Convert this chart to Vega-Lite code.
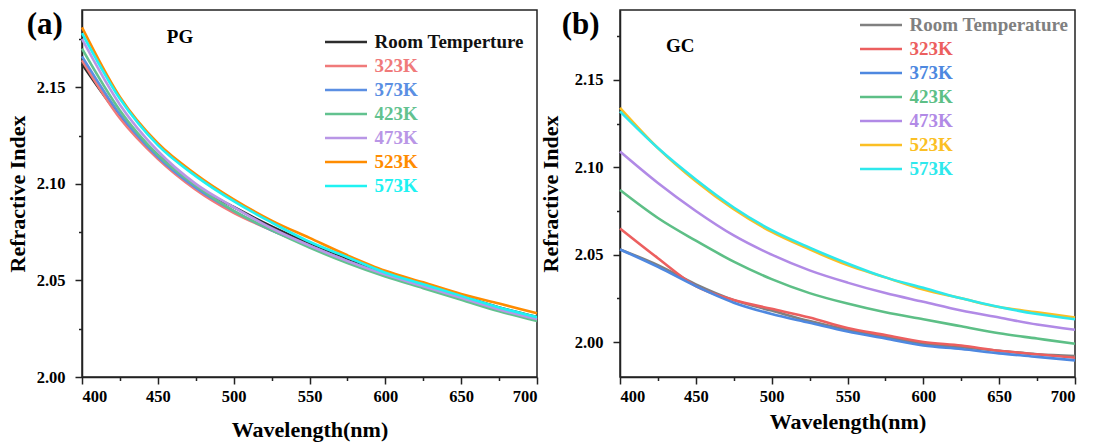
{
  "$schema": "https://vega.github.io/schema/vega-lite/v6.json",
  "padding": {"left": 5, "top": 7, "right": 5, "bottom": 5},
  "bounds": "flush",
  "spacing": 83,
  "datasets": {
    "pg": [
      {"series":"Room Temperture","wavelength":400,"n":2.162},{"series":"Room Temperture","wavelength":425,"n":2.135},{"series":"Room Temperture","wavelength":450,"n":2.115},{"series":"Room Temperture","wavelength":475,"n":2.099},{"series":"Room Temperture","wavelength":500,"n":2.088},{"series":"Room Temperture","wavelength":525,"n":2.078},{"series":"Room Temperture","wavelength":550,"n":2.069},{"series":"Room Temperture","wavelength":575,"n":2.061},{"series":"Room Temperture","wavelength":600,"n":2.054},{"series":"Room Temperture","wavelength":625,"n":2.048},{"series":"Room Temperture","wavelength":650,"n":2.042},{"series":"Room Temperture","wavelength":675,"n":2.036},{"series":"Room Temperture","wavelength":700,"n":2.031},
      {"series":"323K","wavelength":400,"n":2.164},{"series":"323K","wavelength":425,"n":2.134},{"series":"323K","wavelength":450,"n":2.113},{"series":"323K","wavelength":475,"n":2.097},{"series":"323K","wavelength":500,"n":2.085},{"series":"323K","wavelength":525,"n":2.076},{"series":"323K","wavelength":550,"n":2.068},{"series":"323K","wavelength":575,"n":2.060},{"series":"323K","wavelength":600,"n":2.053},{"series":"323K","wavelength":625,"n":2.047},{"series":"323K","wavelength":650,"n":2.041},{"series":"323K","wavelength":675,"n":2.035},{"series":"323K","wavelength":700,"n":2.030},
      {"series":"373K","wavelength":400,"n":2.166},{"series":"373K","wavelength":425,"n":2.136},{"series":"373K","wavelength":450,"n":2.114},{"series":"373K","wavelength":475,"n":2.098},{"series":"373K","wavelength":500,"n":2.086},{"series":"373K","wavelength":525,"n":2.076},{"series":"373K","wavelength":550,"n":2.068},{"series":"373K","wavelength":575,"n":2.060},{"series":"373K","wavelength":600,"n":2.053},{"series":"373K","wavelength":625,"n":2.047},{"series":"373K","wavelength":650,"n":2.041},{"series":"373K","wavelength":675,"n":2.035},{"series":"373K","wavelength":700,"n":2.030},
      {"series":"423K","wavelength":400,"n":2.170},{"series":"423K","wavelength":425,"n":2.138},{"series":"423K","wavelength":450,"n":2.115},{"series":"423K","wavelength":475,"n":2.099},{"series":"423K","wavelength":500,"n":2.086},{"series":"423K","wavelength":525,"n":2.076},{"series":"423K","wavelength":550,"n":2.067},{"series":"423K","wavelength":575,"n":2.059},{"series":"423K","wavelength":600,"n":2.052},{"series":"423K","wavelength":625,"n":2.046},{"series":"423K","wavelength":650,"n":2.040},{"series":"423K","wavelength":675,"n":2.034},{"series":"423K","wavelength":700,"n":2.029},
      {"series":"473K","wavelength":400,"n":2.175},{"series":"473K","wavelength":425,"n":2.141},{"series":"473K","wavelength":450,"n":2.117},{"series":"473K","wavelength":475,"n":2.100},{"series":"473K","wavelength":500,"n":2.088},{"series":"473K","wavelength":525,"n":2.077},{"series":"473K","wavelength":550,"n":2.068},{"series":"473K","wavelength":575,"n":2.060},{"series":"473K","wavelength":600,"n":2.053},{"series":"473K","wavelength":625,"n":2.047},{"series":"473K","wavelength":650,"n":2.041},{"series":"473K","wavelength":675,"n":2.035},{"series":"473K","wavelength":700,"n":2.030},
      {"series":"523K","wavelength":400,"n":2.181},{"series":"523K","wavelength":425,"n":2.145},{"series":"523K","wavelength":450,"n":2.121},{"series":"523K","wavelength":475,"n":2.105},{"series":"523K","wavelength":500,"n":2.092},{"series":"523K","wavelength":525,"n":2.081},{"series":"523K","wavelength":550,"n":2.072},{"series":"523K","wavelength":575,"n":2.063},{"series":"523K","wavelength":600,"n":2.055},{"series":"523K","wavelength":625,"n":2.049},{"series":"523K","wavelength":650,"n":2.043},{"series":"523K","wavelength":675,"n":2.038},{"series":"523K","wavelength":700,"n":2.033},
      {"series":"573K","wavelength":400,"n":2.178},{"series":"573K","wavelength":425,"n":2.144},{"series":"573K","wavelength":450,"n":2.120},{"series":"573K","wavelength":475,"n":2.104},{"series":"573K","wavelength":500,"n":2.091},{"series":"573K","wavelength":525,"n":2.080},{"series":"573K","wavelength":550,"n":2.070},{"series":"573K","wavelength":575,"n":2.062},{"series":"573K","wavelength":600,"n":2.054},{"series":"573K","wavelength":625,"n":2.048},{"series":"573K","wavelength":650,"n":2.042},{"series":"573K","wavelength":675,"n":2.036},{"series":"573K","wavelength":700,"n":2.031}
    ],
    "gc": [
      {"series":"Room Temperature","wavelength":400,"n":2.053},{"series":"Room Temperature","wavelength":425,"n":2.044},{"series":"Room Temperature","wavelength":450,"n":2.033},{"series":"Room Temperature","wavelength":475,"n":2.024},{"series":"Room Temperature","wavelength":500,"n":2.018},{"series":"Room Temperature","wavelength":525,"n":2.012},{"series":"Room Temperature","wavelength":550,"n":2.007},{"series":"Room Temperature","wavelength":575,"n":2.003},{"series":"Room Temperature","wavelength":600,"n":1.999},{"series":"Room Temperature","wavelength":625,"n":1.997},{"series":"Room Temperature","wavelength":650,"n":1.995},{"series":"Room Temperature","wavelength":675,"n":1.993},{"series":"Room Temperature","wavelength":700,"n":1.992},
      {"series":"323K","wavelength":400,"n":2.065},{"series":"323K","wavelength":425,"n":2.048},{"series":"323K","wavelength":450,"n":2.032},{"series":"323K","wavelength":475,"n":2.024},{"series":"323K","wavelength":500,"n":2.019},{"series":"323K","wavelength":525,"n":2.014},{"series":"323K","wavelength":550,"n":2.008},{"series":"323K","wavelength":575,"n":2.004},{"series":"323K","wavelength":600,"n":2.000},{"series":"323K","wavelength":625,"n":1.998},{"series":"323K","wavelength":650,"n":1.995},{"series":"323K","wavelength":675,"n":1.993},{"series":"323K","wavelength":700,"n":1.991},
      {"series":"373K","wavelength":400,"n":2.053},{"series":"373K","wavelength":425,"n":2.043},{"series":"373K","wavelength":450,"n":2.032},{"series":"373K","wavelength":475,"n":2.0225},{"series":"373K","wavelength":500,"n":2.016},{"series":"373K","wavelength":525,"n":2.011},{"series":"373K","wavelength":550,"n":2.006},{"series":"373K","wavelength":575,"n":2.002},{"series":"373K","wavelength":600,"n":1.998},{"series":"373K","wavelength":625,"n":1.996},{"series":"373K","wavelength":650,"n":1.9935},{"series":"373K","wavelength":675,"n":1.9915},{"series":"373K","wavelength":700,"n":1.9895},
      {"series":"423K","wavelength":400,"n":2.087},{"series":"423K","wavelength":425,"n":2.071},{"series":"423K","wavelength":450,"n":2.058},{"series":"423K","wavelength":475,"n":2.046},{"series":"423K","wavelength":500,"n":2.036},{"series":"423K","wavelength":525,"n":2.028},{"series":"423K","wavelength":550,"n":2.022},{"series":"423K","wavelength":575,"n":2.017},{"series":"423K","wavelength":600,"n":2.013},{"series":"423K","wavelength":625,"n":2.009},{"series":"423K","wavelength":650,"n":2.005},{"series":"423K","wavelength":675,"n":2.002},{"series":"423K","wavelength":700,"n":1.999},
      {"series":"473K","wavelength":400,"n":2.109},{"series":"473K","wavelength":425,"n":2.091},{"series":"473K","wavelength":450,"n":2.075},{"series":"473K","wavelength":475,"n":2.061},{"series":"473K","wavelength":500,"n":2.050},{"series":"473K","wavelength":525,"n":2.041},{"series":"473K","wavelength":550,"n":2.034},{"series":"473K","wavelength":575,"n":2.028},{"series":"473K","wavelength":600,"n":2.023},{"series":"473K","wavelength":625,"n":2.018},{"series":"473K","wavelength":650,"n":2.014},{"series":"473K","wavelength":675,"n":2.010},{"series":"473K","wavelength":700,"n":2.007},
      {"series":"523K","wavelength":400,"n":2.134},{"series":"523K","wavelength":425,"n":2.111},{"series":"523K","wavelength":450,"n":2.092},{"series":"523K","wavelength":475,"n":2.076},{"series":"523K","wavelength":500,"n":2.063},{"series":"523K","wavelength":525,"n":2.053},{"series":"523K","wavelength":550,"n":2.044},{"series":"523K","wavelength":575,"n":2.037},{"series":"523K","wavelength":600,"n":2.030},{"series":"523K","wavelength":625,"n":2.025},{"series":"523K","wavelength":650,"n":2.020},{"series":"523K","wavelength":675,"n":2.017},{"series":"523K","wavelength":700,"n":2.014},
      {"series":"573K","wavelength":400,"n":2.132},{"series":"573K","wavelength":425,"n":2.111},{"series":"573K","wavelength":450,"n":2.093},{"series":"573K","wavelength":475,"n":2.077},{"series":"573K","wavelength":500,"n":2.064},{"series":"573K","wavelength":525,"n":2.054},{"series":"573K","wavelength":550,"n":2.045},{"series":"573K","wavelength":575,"n":2.037},{"series":"573K","wavelength":600,"n":2.031},{"series":"573K","wavelength":625,"n":2.025},{"series":"573K","wavelength":650,"n":2.020},{"series":"573K","wavelength":675,"n":2.016},{"series":"573K","wavelength":700,"n":2.013}
    ]
  },
  "hconcat": [
    {
      "width": 455,
      "height": 367,
      "layer": [
        {
          "data": {"name": "pg"},
          "mark": {"type": "line", "strokeWidth": 2.6, "interpolate": "monotone"},
          "encoding": {
            "x": {"field": "wavelength", "type": "quantitative", "scale": {"domain": [400, 700], "nice": false, "zero": false},
                  "axis": {"orient": "bottom", "values": [400, 450, 500, 550, 600, 650, 700], "format": "d", "title": "Wavelength(nm)", "titlePadding": 15,
                           "labelFont": "Liberation Serif", "titleFont": "Liberation Serif"}},
            "y": {"field": "n", "type": "quantitative", "scale": {"domain": [2.0, 2.19], "nice": false, "zero": false},
                  "axis": {"orient": "left", "values": [2.0, 2.05, 2.1, 2.15], "format": ".2f", "title": "Refractive Index", "titlePadding": 7,
                           "labelFont": "Liberation Serif", "titleFont": "Liberation Serif"}},
            "color": {"field": "series", "type": "nominal",
              "scale": {"domain": ["Room Temperture", "323K", "373K", "423K", "473K", "523K", "573K"],
                        "range": ["#2d2d2d", "#f07a7a", "#5b8fe3", "#62c28f", "#b996e6", "#ff8c00", "#1ff2f2"]},
              "legend": {"orient": "none", "legendX": 252, "legendY": 20,
                "encoding": {"labels": {"fill": {"condition": [
                  {"test": "datum.value === '323K'", "value": "#f07a7a"},
                  {"test": "datum.value === '373K'", "value": "#5b8fe3"},
                  {"test": "datum.value === '423K'", "value": "#62c28f"},
                  {"test": "datum.value === '473K'", "value": "#b996e6"},
                  {"test": "datum.value === '523K'", "value": "#ff8c00"},
                  {"test": "datum.value === '573K'", "value": "#1ff2f2"}], "value": "#111111"}}}}}
          }
        },
        {
          "data": {"values": [{"label": "PG"}]},
          "mark": {"type": "text", "fontSize": 19, "fontWeight": "bold", "font": "Liberation Serif", "color": "#000"},
          "encoding": {
            "text": {"field": "label"},
            "x": {"datum": 464.6, "type": "quantitative", "axis": {"orient": "bottom", "values": [425, 475, 525, 575, 625, 675], "labels": false, "domain": false, "tickSize": 3.5, "title": null}},
            "y": {"datum": 2.1759, "type": "quantitative", "axis": {"orient": "left", "values": [2.025, 2.075, 2.125, 2.175], "labels": false, "domain": false, "tickSize": 3.5, "title": null}}
          }
        },
        {
          "data": {"values": [{"label": "(a)"}]},
          "mark": {"type": "text", "fontSize": 31, "fontWeight": "bold", "font": "Liberation Serif", "color": "#000", "baseline": "alphabetic", "clip": false},
          "encoding": {
            "text": {"field": "label"},
            "x": {"datum": 375.5, "type": "quantitative", "axis": null},
            "y": {"datum": 2.1778, "type": "quantitative", "axis": null}
          }
        }
      ],
      "resolve": {"axis": {"x": "independent", "y": "independent"}}
    },
    {
      "width": 455,
      "height": 367,
      "layer": [
        {
          "data": {"name": "gc"},
          "mark": {"type": "line", "strokeWidth": 2.6, "interpolate": "monotone"},
          "encoding": {
            "x": {"field": "wavelength", "type": "quantitative", "scale": {"domain": [400, 700], "nice": false, "zero": false},
                  "axis": {"orient": "bottom", "values": [400, 450, 500, 550, 600, 650, 700], "format": "d", "title": "Wavelength(nm)", "titlePadding": 7,
                           "labelFont": "Liberation Serif", "titleFont": "Liberation Serif"}},
            "y": {"field": "n", "type": "quantitative", "scale": {"domain": [1.98, 2.19], "nice": false, "zero": false},
                  "axis": {"orient": "left", "values": [2.0, 2.05, 2.1, 2.15], "format": ".2f", "title": "Refractive Index", "titlePadding": 12,
                           "labelFont": "Liberation Serif", "titleFont": "Liberation Serif"}},
            "color": {"field": "series", "type": "nominal",
              "scale": {"domain": ["Room Temperature", "323K", "373K", "423K", "473K", "523K", "573K"],
                        "range": ["#808080", "#ec5f5f", "#4e88e0", "#5dbf86", "#b18ae6", "#fbbf24", "#2ee8ec"]},
              "legend": {"orient": "none", "legendX": 249, "legendY": 3,
                "encoding": {"labels": {"fill": {"condition": [
                  {"test": "datum.value === 'Room Temperature'", "value": "#808080"},
                  {"test": "datum.value === '323K'", "value": "#ec5f5f"},
                  {"test": "datum.value === '373K'", "value": "#4e88e0"},
                  {"test": "datum.value === '423K'", "value": "#5dbf86"},
                  {"test": "datum.value === '473K'", "value": "#b18ae6"},
                  {"test": "datum.value === '523K'", "value": "#fbbf24"},
                  {"test": "datum.value === '573K'", "value": "#2ee8ec"}], "value": "#111111"}}}}}
          }
        },
        {
          "data": {"values": [{"label": "GC"}]},
          "mark": {"type": "text", "fontSize": 19, "fontWeight": "bold", "font": "Liberation Serif", "color": "#000"},
          "encoding": {
            "text": {"field": "label"},
            "x": {"datum": 439.7, "type": "quantitative", "axis": {"orient": "bottom", "values": [425, 475, 525, 575, 625, 675], "labels": false, "domain": false, "tickSize": 3.5, "title": null}},
            "y": {"datum": 2.1695, "type": "quantitative", "axis": {"orient": "left", "values": [2.025, 2.075, 2.125, 2.175], "labels": false, "domain": false, "tickSize": 3.5, "title": null}}
          }
        },
        {
          "data": {"values": [{"label": "(b)"}]},
          "mark": {"type": "text", "fontSize": 31, "fontWeight": "bold", "font": "Liberation Serif", "color": "#000", "baseline": "alphabetic", "clip": false},
          "encoding": {
            "text": {"field": "label"},
            "x": {"datum": 374.0, "type": "quantitative", "axis": null},
            "y": {"datum": 2.1763, "type": "quantitative", "axis": null}
          }
        }
      ],
      "resolve": {"axis": {"x": "independent", "y": "independent"}}
    }
  ],
  "resolve": {"scale": {"color": "independent"}, "legend": {"color": "independent"}},
  "config": {
    "font": "Liberation Serif",
    "background": "#ffffff",
    "view": {"stroke": "#222222", "strokeWidth": 1.5},
    "axis": {
      "grid": false,
      "domainColor": "#222222", "domainWidth": 1.5,
      "tickColor": "#222222", "tickWidth": 1.5, "tickSize": 7,
      "labelFont": "Liberation Serif", "labelFontSize": 16.5, "labelFontWeight": "bold", "labelColor": "#000000",
      "titleFont": "Liberation Serif", "titleFontSize": 22, "titleFontWeight": "bold", "titleColor": "#000000"
    },
    "axisX": {"labelPadding": 4},
    "axisY": {"labelPadding": 10},
    "legend": {
      "title": null,
      "padding": 0,
      "offset": 0,
      "symbolType": "M-2,0H2",
      "symbolSize": 441,
      "symbolStrokeWidth": 2.6,
      "labelOffset": 16.5,
      "rowPadding": 2,
      "labelFont": "Liberation Serif",
      "labelFontSize": 19,
      "labelFontWeight": "bold",
      "labelLimit": 300
    }
  }
}
